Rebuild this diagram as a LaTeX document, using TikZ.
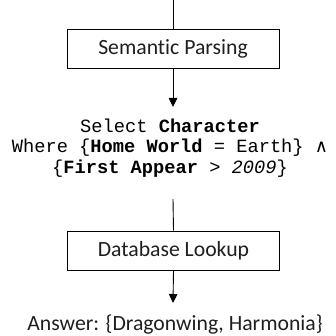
\documentclass[tikz,border=0pt]{standalone}
\usepackage{fontspec}
\setmainfont[Ligatures=NoCommon]{Carlito}
\setmonofont{Liberation Mono}
\newfontfamily\symfont{DejaVu Sans}
\usetikzlibrary{arrows.meta}
\definecolor{ink}{HTML}{1E1E1E}
\begin{document}
\begin{tikzpicture}[x=1pt,y=-1pt,
  stagebox/.style={draw=black,line width=0.9pt,minimum width=212pt,minimum height=39pt,inner sep=0pt,text=ink,font=\fontsize{21.7}{24}\selectfont},
  conn/.style={line width=0.9pt},
  arr/.style={conn,-{Triangle[length=9pt,width=8.5pt]}},
]
\useasboundingbox (0,0) rectangle (335,336);
\coordinate (top) at (173,0);
\node[stagebox] (parse) at (173,48.5) {Semantic Parsing};
\coordinate (qin) at (173,107);
\node[align=center,inner sep=0pt,font=\ttfamily\fontsize{18.7}{20.8}\selectfont] (query) at (170,148)
  {Select \textbf{Character}\\
   Where \{\textbf{Home World} = Earth\} {\symfont\fontsize{18}{18}\selectfont ∧}\\
   \{\textbf{First Appear} > \textit{2009}\}};
\coordinate (qout) at (173,199);
\node[stagebox] (lookup) at (173.5,250.5) {Database Lookup};
\coordinate (ain) at (173,303);
\node[inner sep=0pt,text=ink,font=\fontsize{21.7}{24}\selectfont] (answer) at (175,325) {Answer: \{Dragonwing, Harmonia\}};
\draw[conn] (top) -- (parse.north);
\draw[arr] (parse.south) -- (qin);
\draw[conn] (qout) -- (lookup.north);
\draw[arr] (lookup.south) -- (ain);
\end{tikzpicture}
\end{document}
